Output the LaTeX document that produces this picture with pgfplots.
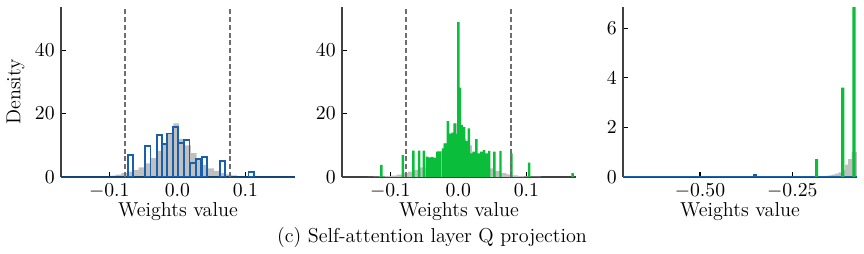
\documentclass[border=0pt]{standalone}
\usepackage{pgfplots}
\pgfplotsset{compat=1.18}
\definecolor{qblue}{RGB}{25,95,170}
\definecolor{qgreen}{RGB}{10,190,60}
\definecolor{hgray}{RGB}{192,192,192}
\definecolor{dgray}{RGB}{110,110,110}
\pgfplotstableread{
x y
-0.1290 0.05
-0.1205 0.10
-0.1120 0.15
-0.1035 0.25
-0.0950 0.45
-0.0865 0.75
-0.0780 1.20
-0.0695 1.70
-0.0610 2.20
-0.0525 3.00
-0.0440 4.30
-0.0355 5.90
-0.0270 8.20
-0.0185 10.60
-0.0100 13.70
-0.0015 16.90
0.0070 11.90
0.0155 10.00
0.0240 7.50
0.0325 5.40
0.0410 3.80
0.0495 2.70
0.0580 1.90
0.0665 1.20
0.0750 0.80
0.0835 0.50
0.0920 0.30
0.1005 0.20
0.1090 0.12
0.1175 0.07
}\grayA
\pgfplotstableread{
x y
-0.0686 6.9
-0.0433 9.9
-0.0265 13.2
-0.0185 10.3
-0.0107 13.7
-0.0025 15.7
0.0055 10.8
0.0140 11.6
0.0230 4.3
0.0315 5.6
0.0395 6.4
0.0660 5.0
0.1085 1.7
}\blueA
\pgfplotstableread{
x y
-0.1130 3.8
-0.0815 6.9
-0.0660 8.3
-0.0575 8.3
-0.0505 8.3
-0.0460 6.4
-0.0420 6.2
-0.0383 6.3
-0.0346 6.1
-0.0310 8.0
-0.0270 8.0
-0.0225 9.0
-0.0190 10.6
-0.0155 17.6
-0.0120 13.7
-0.0085 14.0
-0.0055 16.9
-0.0025 13.7
0.0000 48.8
0.0025 28.2
0.0050 16.4
0.0085 15.7
0.0118 11.4
0.0154 15.3
0.0190 7.4
0.0226 8.0
0.0265 11.9
0.0300 7.4
0.0340 8.0
0.0380 8.5
0.0420 7.4
0.0455 8.2
0.0530 8.0
0.0620 8.2
0.0780 7.4
0.1040 4.5
0.1680 1.2
}\greenB
\pgfplotstableread{
x y
-0.1660 0.02
-0.1570 0.04
-0.1480 0.06
-0.1390 0.09
-0.1300 0.13
-0.1210 0.18
-0.1120 0.28
-0.1030 0.50
-0.0940 0.72
-0.0850 1.00
-0.0790 1.00
}\grayC
\pgfplotstableread{
x y
-0.1840 0.72
-0.1135 3.60
-0.0830 7.00
}\greenC
\pgfplotsset{
  hist/.style={
    scale only axis, width=130pt, height=94.4pt,
    axis lines=left,
    axis line style={-, draw=black!75, line width=0.8pt},
    tick align=inside, major tick length=3pt,
    tick style={black, line width=0.6pt},
    ymin=0,
    xlabel={Weights value},
    xlabel style={yshift=4pt},
    tick label style={font=\fontsize{11.2}{13}\selectfont},
    label style={font=\fontsize{11.2}{13}\selectfont},
    xticklabel style={/pgf/number format/.cd, fixed, fixed zerofill, precision=1},
    scaled x ticks=false,
  },
  gbar/.style={ybar, bar shift=0pt, bar width=0.0085, fill=hgray, draw=none},
  thr/.style={dgray, line width=1.3pt, dash pattern=on 2.8pt off 1.5pt},
}
\begin{document}
\begin{tikzpicture}
\path[use as bounding box] (0,0) rectangle (480pt,141.11pt);
% Panel 1
\begin{axis}[hist, at={(33.9pt,42.8pt)}, anchor=south west,
  xmin=-0.171, xmax=0.173, ymax=53.6,
  xtick={-0.1,0,0.1}, ytick={0,20,40},
  ylabel={Density}, ylabel style={yshift=-1pt}]
\addplot[gbar] table {\grayA};
\addplot[qblue!70!black, line width=0.9pt] coordinates {(-0.171,0) (0.173,0)};
\addplot[ybar, bar shift=0pt, bar width=0.0078, draw=qblue, fill=none, line width=1.05pt] table {\blueA};
\addplot[thr] coordinates {(-0.077,0) (-0.077,53.6)};
\addplot[thr] coordinates {(0.077,0) (0.077,53.6)};
\end{axis}
% Panel 2
\begin{axis}[hist, at={(190pt,42.8pt)}, anchor=south west,
  xmin=-0.171, xmax=0.173, ymax=53.6,
  xtick={-0.1,0,0.1}, ytick={0,20,40}]
\addplot[gbar] table {\grayA};
\addplot[ybar, bar shift=0pt, bar width=0.0036, fill=qgreen, draw=none] table {\greenB};
\addplot[thr] coordinates {(-0.077,0) (-0.077,53.6)};
\addplot[thr] coordinates {(0.077,0) (0.077,53.6)};
\end{axis}
% Panel 3
\begin{axis}[hist, at={(346.1pt,42.8pt)}, anchor=south west,
  xmin=-0.7086, xmax=-0.0748, ymax=6.85,
  xtick={-0.5,-0.25}, ytick={0,2,4,6},
  xticklabel style={/pgf/number format/.cd, fixed, fixed zerofill, precision=2}]
\addplot[ybar, bar shift=0pt, bar width=0.009, fill=hgray, draw=none] table {\grayC};
\addplot[qblue, line width=0.9pt] coordinates {(-0.7086,0) (-0.0748,0)};
\addplot[ybar, bar shift=0pt, bar width=0.011, fill=qblue, draw=none] coordinates {(-0.35,0.12)};
\addplot[ybar, bar shift=0pt, bar width=0.0085, fill=qgreen, draw=none] table {\greenC};
\end{axis}
\node[font=\fontsize{11.2}{13}\selectfont] at (240pt,9.4pt) {(c) Self-attention layer Q projection};
\end{tikzpicture}
\end{document}
